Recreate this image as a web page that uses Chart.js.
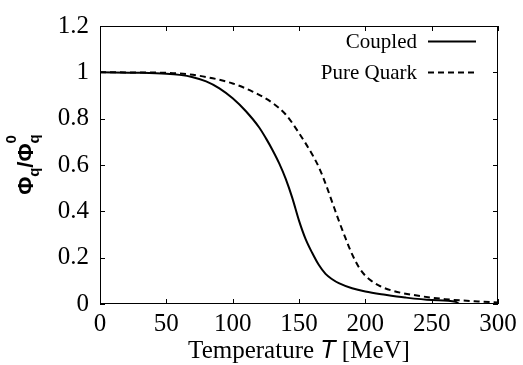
<!DOCTYPE html>
<html>
<head>
<meta charset="utf-8">
<script src="https://cdn.jsdelivr.net/npm/chart.js@4.4.1/dist/chart.umd.min.js"></script>
<style>
  html, body { margin: 0; padding: 0; background: #fff; }
  #wrap { width: 523px; height: 365px; }
</style>
</head>
<body>
<div id="wrap"><canvas id="phiChart" width="523" height="365"></canvas></div>
<script>
// Polyakov loop ratio vs temperature
const coupledT   = [0, 30, 50, 60, 70, 80, 90, 100, 110, 120, 125, 130, 135, 140, 145, 150, 155, 160, 165, 170, 175, 180, 190, 200, 215, 230, 250, 268, 271, 300];
const coupledPhi = [1.0, 0.998, 0.994, 0.989, 0.979, 0.961, 0.931, 0.888, 0.832, 0.762, 0.716, 0.665, 0.608, 0.54, 0.457, 0.36, 0.28, 0.22, 0.168, 0.13, 0.107, 0.09, 0.068, 0.054, 0.04, 0.028, 0.017, 0.01, 0.0, 0.0];

const quarkT   = [0, 40, 60, 80, 100, 115, 130, 140, 150, 160, 165, 170, 175, 180, 185, 190, 195, 200, 205, 210, 220, 235, 260, 285, 300];
const quarkPhi = [1.0, 0.999, 0.995, 0.98, 0.952, 0.917, 0.868, 0.818, 0.738, 0.645, 0.59, 0.52, 0.44, 0.36, 0.285, 0.215, 0.16, 0.122, 0.098, 0.08, 0.058, 0.04, 0.021, 0.011, 0.007];

const seriesLabels = ['Coupled', 'Pure Quark'];
const xTicks = [0, 50, 100, 150, 200, 250, 300];
const yTicks = [0, 0.2, 0.4, 0.6, 0.8, 1.0, 1.2];

const SERIF = '"Liberation Serif", "Times New Roman", serif';
const SANS = '"Liberation Sans", Arial, sans-serif';

const toPoints = (xs, ys) => xs.map((x, i) => ({ x: x, y: ys[i] }));

// gnuplot style: inward ticks on all four sides, box border, legend, axis titles
const gnuplotFrame = {
    id: 'gnuplotFrame',
    afterDraw(chart) {
        const ctx = chart.ctx;
        const area = chart.chartArea;
        const xs = chart.scales.x;
        const ys = chart.scales.y;
        const tick = 5;

        ctx.save();
        ctx.strokeStyle = '#000';
        ctx.lineWidth = 1;
        ctx.strokeRect(area.left + 0.5, area.top + 0.5, area.right - area.left - 1, area.bottom - area.top - 1);

        ctx.beginPath();
        xTicks.forEach(v => {
            const px = Math.round(xs.getPixelForValue(v)) + 0.5;
            ctx.moveTo(px, area.bottom); ctx.lineTo(px, area.bottom - tick);
            ctx.moveTo(px, area.top); ctx.lineTo(px, area.top + tick);
        });
        yTicks.forEach(v => {
            const py = Math.round(ys.getPixelForValue(v)) + 0.5;
            ctx.moveTo(area.left, py); ctx.lineTo(area.left + tick, py);
            ctx.moveTo(area.right, py); ctx.lineTo(area.right - tick, py);
        });
        ctx.stroke();

        // legend, text right-aligned with line sample after it
        ctx.font = '21px ' + SERIF;
        ctx.fillStyle = '#000';
        ctx.textAlign = 'right';
        ctx.textBaseline = 'middle';
        chart.data.datasets.forEach((ds, i) => {
            const y = 41 + i * 31;
            ctx.fillText(ds.label, 417, y + 1);
            ctx.beginPath();
            ctx.lineWidth = 2;
            ctx.setLineDash(ds.borderDash || []);
            ctx.moveTo(428, y + 0.5);
            ctx.lineTo(476, y + 0.5);
            ctx.stroke();
        });
        ctx.setLineDash([]);

        // x title: Temperature T [MeV]
        ctx.textBaseline = 'alphabetic';
        ctx.textAlign = 'left';
        const parts = [
            { t: 'Temperature ', f: '25px ' + SERIF },
            { t: 'T', f: 'italic 25px ' + SANS },
            { t: ' [MeV]', f: '25px ' + SERIF }
        ];
        let total = 0;
        parts.forEach(p => { ctx.font = p.f; p.w = ctx.measureText(p.t).width; total += p.w; });
        let x0 = (area.left + area.right) / 2 - total / 2;
        parts.forEach(p => { ctx.font = p.f; ctx.fillText(p.t, x0, 358); x0 += p.w; });

        // y title: Phi_q / Phi_q^0, rotated
        ctx.translate(33, (area.top + area.bottom) / 2);
        ctx.rotate(-Math.PI / 2);
        const yParts = [
            { t: 'Φ', f: 'bold 22px ' + SANS, dy: 0 },
            { t: 'q', f: 'bold 15px ' + SANS, dy: 6 },
            { t: '/', f: 'bold 22px ' + SANS, dy: 0 },
            { t: 'Φ', f: 'bold 22px ' + SANS, dy: 0 },
            { t: 'q', f: 'bold 15px ' + SANS, dy: 6, keep: true },
            { t: '0', f: 'bold 15px ' + SANS, dy: -17 }
        ];
        let tw = 0;
        yParts.forEach(p => { ctx.font = p.f; p.w = ctx.measureText(p.t).width; if (!p.keep) tw += p.w; });
        let yx = -tw / 2;
        yParts.forEach(p => {
            ctx.font = p.f;
            ctx.fillText(p.t, yx, p.dy);
            if (!p.keep) yx += p.w;
        });
        ctx.restore();
    }
};

const fmt = v => String(+Number(v).toFixed(1));

new Chart(document.getElementById('phiChart'), {
    type: 'line',
    data: {
        datasets: [
            {
                label: seriesLabels[0],
                data: toPoints(coupledT, coupledPhi),
                borderColor: '#000',
                borderWidth: 2,
                pointRadius: 0,
                cubicInterpolationMode: 'monotone',
                fill: false
            },
            {
                label: seriesLabels[1],
                data: toPoints(quarkT, quarkPhi),
                borderColor: '#000',
                borderWidth: 2,
                borderDash: [6, 4],
                pointRadius: 0,
                cubicInterpolationMode: 'monotone',
                fill: false
            }
        ]
    },
    options: {
        responsive: false,
        animation: false,
        layout: { padding: { left: 0, top: 18, right: 25, bottom: 0 } },
        plugins: {
            legend: { display: false },
            tooltip: { enabled: false }
        },
        scales: {
            x: {
                type: 'linear',
                min: 0,
                max: 300,
                afterFit: s => { s.height = 61; },
                afterBuildTicks: s => { s.ticks = xTicks.map(v => ({ value: v })); },
                grid: { display: false, drawTicks: false },
                border: { display: false },
                ticks: { color: '#000', padding: 5, maxRotation: 0, callback: fmt, font: { family: SERIF, size: 25 } }
            },
            y: {
                min: 0,
                max: 1.2,
                afterFit: s => { s.width = 100; },
                afterBuildTicks: s => { s.ticks = yTicks.map(v => ({ value: v })); },
                grid: { display: false, drawTicks: false },
                border: { display: false },
                ticks: { color: '#000', padding: 11, callback: fmt, font: { family: SERIF, size: 25 } }
            }
        }
    },
    plugins: [gnuplotFrame]
});
</script>
</body>
</html>
